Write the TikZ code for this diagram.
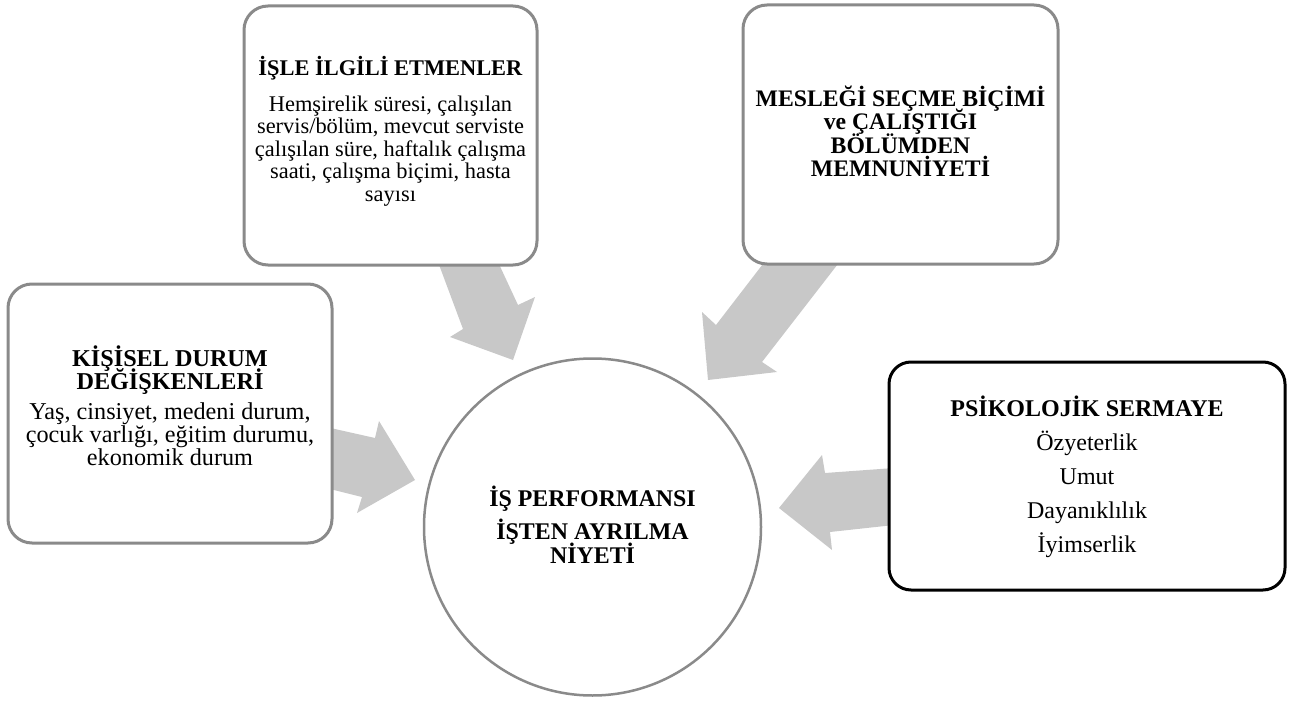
\documentclass[tikz,border=0pt]{standalone}
\usepackage{fontspec}
\setmainfont{Liberation Serif}
\definecolor{arrowgray}{HTML}{C8C8C8}
\definecolor{boxgray}{HTML}{8A8A8A}
\newcommand\fsA{\fontsize{22.4}{22.5}\selectfont\lineskiplimit=-100pt}
\newcommand\fsB{\fontsize{23.7}{23.5}\selectfont\lineskiplimit=-100pt}
\newcommand\fsC{\fontsize{24.2}{22.7}\selectfont\lineskiplimit=-100pt}
\newcommand\fsD{\fontsize{24}{34}\selectfont\lineskiplimit=-100pt}
\newcommand\fsE{\fontsize{23.9}{24}\selectfont\lineskiplimit=-100pt}
\tikzset{
  box/.style={draw=boxgray, line width=3pt, rounded corners=24pt, fill=white, inner sep=0pt, rectangle},
  darkbox/.style={box, draw=black},
  hub/.style={circle, draw=boxgray, line width=2.5pt, fill=white, inner sep=0pt, minimum size=337pt},
  blockarrow/.style={fill=arrowgray, draw=none},
  txt/.style={anchor=base, align=center, inner sep=0pt},
}
\begin{document}
\begin{tikzpicture}[x=1pt,y=-1pt]
\useasboundingbox (0,0) rectangle (1294,701);
% block arrows
\fill[blockarrow] (438,262) -- (498,262) -- (518,305) -- (535,297) -- (513,360) -- (450,337) -- (463,329) -- cycle;
\fill[blockarrow] (766,260) -- (841,260) -- (762,362) -- (777,372) -- (708,380) -- (702,312) -- (716,325) -- cycle;
\fill[blockarrow] (326,427) -- (375,438) -- (379,421) -- (415,480) -- (357,513) -- (362,497) -- (326,488) -- cycle;
\fill[blockarrow] (894,468) -- (825,473) -- (822,455) -- (779,508) -- (832,550) -- (830,532) -- (894,525) -- cycle;
% boxes
\node[box, minimum width=293pt, minimum height=259pt] (isle) at (390.5,135.5) {};
\node[box, minimum width=315pt, minimum height=259pt] (meslek) at (900.5,134.5) {};
\node[box, minimum width=324pt, minimum height=259pt] (kisisel) at (170,413.5) {};
\node[darkbox, minimum width=396pt, minimum height=228pt, rounded corners=22pt] (psiko) at (1087,476) {};
\node[hub] (hub) at (592.5,527) {};
% texts (anchor base = baseline of the last line)
\node[txt, font=\fsA] (isletxt) at (390.5,201) {\textbf{İŞLE İLGİLİ ETMENLER}\\[13.5pt]Hemşirelik süresi, çalışılan\\servis/bölüm, mevcut serviste\\çalışılan süre, haftalık çalışma\\saati, çalışma biçimi, hasta\\sayısı};
\node[txt, font=\fsB\bfseries] (meslektxt) at (900.5,176.5) {MESLEĞİ SEÇME BİÇİMİ\\ve ÇALIŞTIĞI\\BÖLÜMDEN\\MEMNUNİYETİ};
\node[txt, font=\fsC] (kisiseltxt) at (170,465) {\textbf{KİŞİSEL DURUM}\\\textbf{DEĞİŞKENLERİ}\\[7.6pt]Yaş, cinsiyet, medeni durum,\\çocuk varlığı, eğitim durumu,\\ekonomik durum};
\node[txt, font=\fsD] (psikotxt) at (1087,552) {\textbf{PSİKOLOJİK SERMAYE}\\Özyeterlik\\Umut\\Dayanıklılık\\İyimserlik};
\node[txt, font=\fsE\bfseries] (hubtxt) at (592.5,563) {İŞ PERFORMANSI\\[9pt]İŞTEN AYRILMA\\NİYETİ};
\end{tikzpicture}
\end{document}
